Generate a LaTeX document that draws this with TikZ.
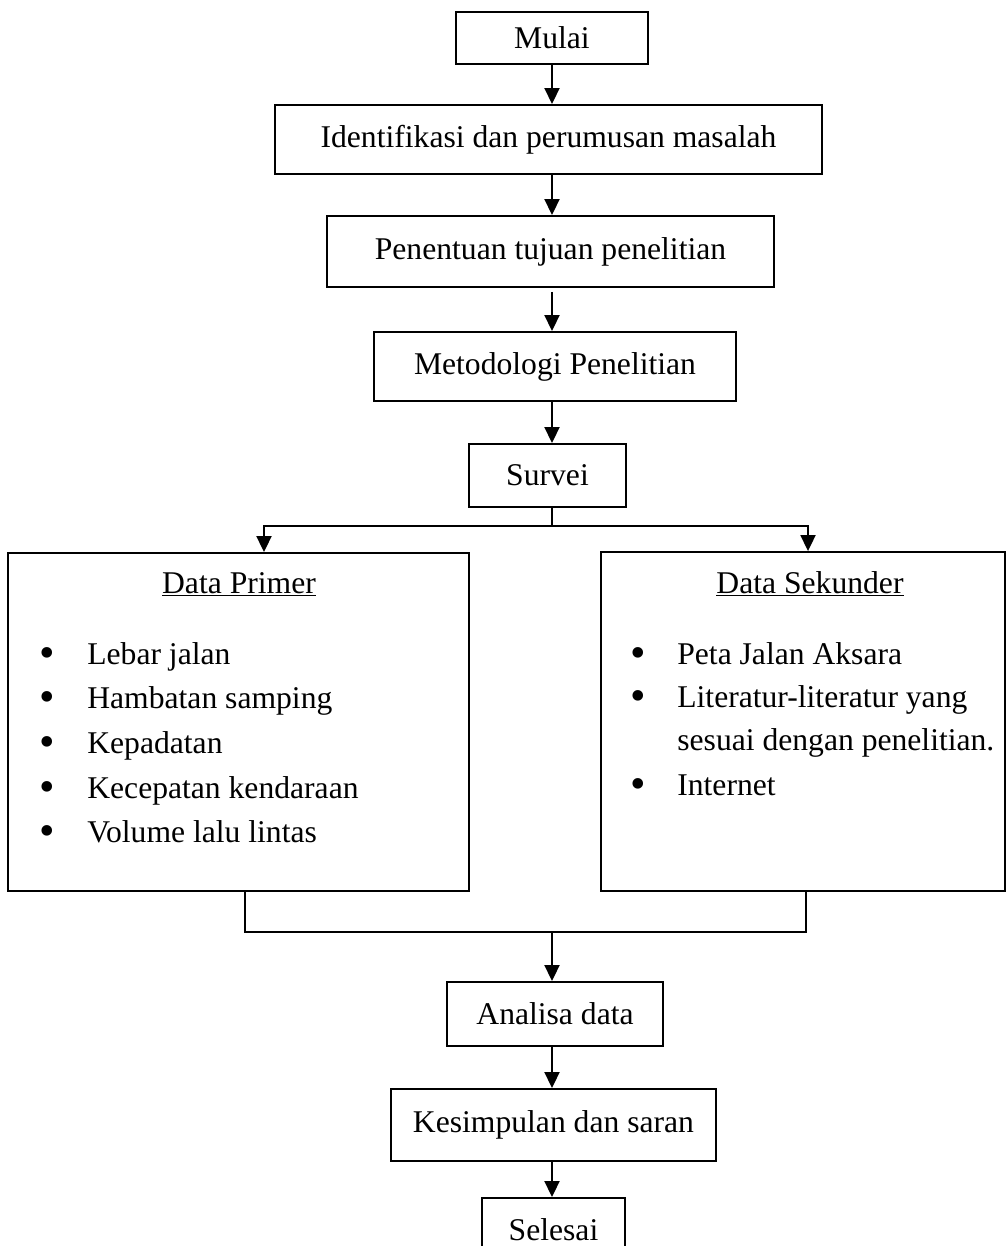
\documentclass[tikz,border=0pt]{standalone}
\usepackage{fontspec}
\setmainfont{Liberation Serif}
\usetikzlibrary{arrows.meta,positioning}
\newcommand{\titik}{\raisebox{-0.1em}{\scalebox{1.4}{\textbullet}}}
\tikzset{
  kotak/.style={draw=black,line width=1.1pt,inner sep=0pt},
  panah/.style={-{Triangle[width=0.3cm,length=0.32cm]},line width=1.1pt},
  garis/.style={line width=1pt},
  isi/.style={anchor=base west,inner sep=0pt}
}
\begin{document}
\begin{tikzpicture}[x=0.02cm,y=-0.02cm,font=\fontsize{18}{25}\selectfont]
        \useasboundingbox (0,0) rectangle (1006,1246);
        % kotak alur utama
        \node[kotak,minimum width=3.84cm,minimum height=1.04cm] (mulai) at (552,38) {Mulai};
        \node[kotak,minimum width=10.96cm,minimum height=1.38cm] (identifikasi) at (548.5,139.5) {Identifikasi dan perumusan masalah};
        \node[kotak,minimum width=8.94cm,minimum height=1.42cm] (tujuan) at (550.5,251.5) {Penentuan tujuan penelitian};
        \node[kotak,minimum width=7.24cm,minimum height=1.38cm] (metode) at (555,366.5) {Metodologi Penelitian};
        \node[kotak,minimum width=3.14cm,minimum height=1.26cm] (survei) at (547.5,475.5) {Survei};
        \node[kotak,minimum width=9.22cm,minimum height=6.76cm] (primer) at (238.5,722) {};
        \node[kotak,minimum width=8.08cm,minimum height=6.78cm] (sekunder) at (803,721.5) {};
        \node[kotak,minimum width=4.32cm,minimum height=1.28cm] (analisa) at (555,1014) {Analisa data};
        \node[kotak,minimum width=6.5cm,minimum height=1.44cm] (simpulan) at (553.5,1125) {Kesimpulan dan saran};
        \node[kotak,minimum width=2.86cm,minimum height=1.28cm] (selesai) at (553.5,1230) {Selesai};
        % isi data primer
        \node[anchor=base,inner sep=0pt] (primerjudul) at (239,593) {\underline{Data Primer}};
        \node[isi] (primer1) at (39,664) {\makebox[0.96cm][l]{\titik}Lebar jalan};
        \node[isi] (primer2) at (39,708) {\makebox[0.96cm][l]{\titik}Hambatan samping};
        \node[isi] (primer3) at (39,753) {\makebox[0.96cm][l]{\titik}Kepadatan};
        \node[isi] (primer4) at (39,798) {\makebox[0.96cm][l]{\titik}Kecepatan kendaraan};
        \node[isi] (primer5) at (39,842) {\makebox[0.96cm][l]{\titik}Volume lalu lintas};
        % isi data sekunder
        \node[anchor=base,inner sep=0pt] (sekunderjudul) at (810,593) {\underline{Data Sekunder}};
        \node[isi] (sekunder1) at (630,664) {\makebox[0.94cm][l]{\titik}Peta Jalan Aksara};
        \node[isi] (sekunder2) at (630,707) {\makebox[0.94cm][l]{\titik}Literatur-literatur yang};
        \node[isi] (sekunder2b) at (630,750) {\makebox[0.94cm][l]{}sesuai dengan penelitian.};
        \node[isi] (sekunder3) at (630,795) {\makebox[0.94cm][l]{\titik}Internet};
        % titik percabangan
        \coordinate (cabang) at (552,526);
        \coordinate (cabangkiri) at (264,526);
        \coordinate (cabangkanan) at (808,526);
        \coordinate (gabung) at (552,932);
        \coordinate (gabungkiri) at (245,932);
        \coordinate (gabungkanan) at (806,932);
        % panah
        \draw[panah] (mulai.south) -- (mulai.south |- identifikasi.north);
        \draw[panah] (mulai |- identifikasi.south) -- (mulai |- tujuan.north);
        \draw[panah,shorten <=0.08cm] (mulai |- tujuan.south) -- (mulai |- metode.north);
        \draw[panah] (mulai |- metode.south) -- (mulai |- survei.north);
        \draw[garis] (cabang |- survei.south) -- (cabang);
        \draw[panah] (cabang) -- (cabangkiri) -- (cabangkiri |- primer.north);
        \draw[panah] (cabang) -- (cabangkanan) -- (cabangkanan |- sekunder.north);
        \draw[garis] (gabungkiri |- primer.south) -- (gabungkiri) -- (gabungkanan) -- (gabungkanan |- sekunder.south);
        \draw[panah] (gabung) -- (gabung |- analisa.north);
        \draw[panah] (mulai |- analisa.south) -- (mulai |- simpulan.north);
        \draw[panah] (mulai |- simpulan.south) -- (mulai |- selesai.north);
\end{tikzpicture}
\end{document}
